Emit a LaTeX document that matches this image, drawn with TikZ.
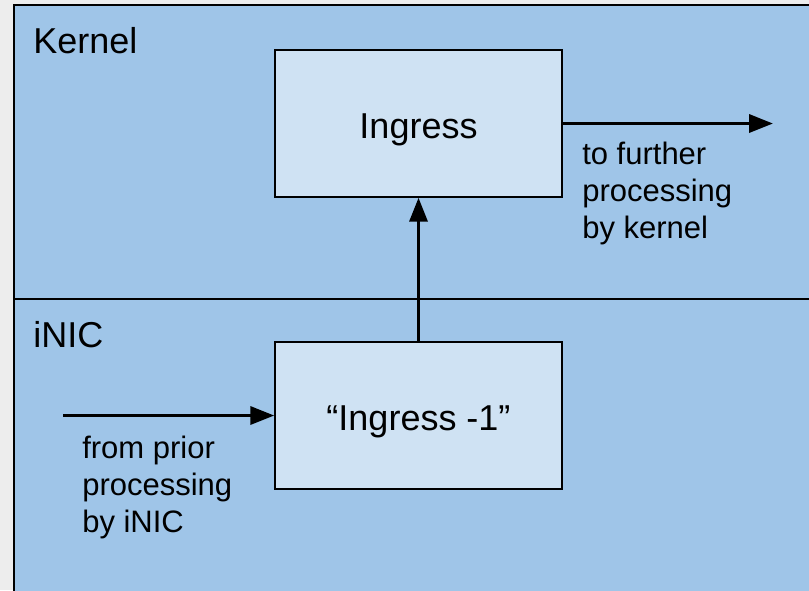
\documentclass[tikz,border=0pt]{standalone}
\usepackage{fontspec}
\setmainfont{Liberation Sans}
\usetikzlibrary{arrows.meta}
\definecolor{layerblue}{HTML}{9FC5E8}
\definecolor{boxblue}{HTML}{CFE2F3}
\definecolor{backdrop}{HTML}{EDEDED}
\begin{document}
\begin{tikzpicture}[x=0.75pt,y=-0.75pt,
  stage/.style={draw=black,line width=1.1pt,fill=boxblue,minimum width=287*0.75pt,minimum height=147*0.75pt,inner sep=0pt,
    text height=22.5pt,text depth=0pt,font=\fontsize{27}{32}\selectfont},
  title/.style={anchor=base west,inner sep=0pt,font=\fontsize{27}{32}\selectfont},
  note/.style={anchor=base west,inner sep=0pt,align=left,font=\fontsize{23.25}{27.75}\selectfont},
  flow/.style={line width=2.6pt,-{Triangle[length=24*0.75pt,width=18*0.75pt]}}]
  % page frame and backdrop
  \fill[backdrop] (0,0) rectangle (809,590);
  \useasboundingbox (0,0) rectangle (809,590);
  % the two layers: kernel on top, iNIC below
  \fill[layerblue] (14,5) rectangle (812,593);
  \draw[line width=1.5pt] (812,5) -- (14,5) -- (14,593);
  \draw[line width=1.1pt] (14,299) -- (812,299);
  \node[title] (kernel) at (33,53) {Kernel};
  \node[title] (inic) at (33,347) {iNIC};
  % processing stages
  \node[stage] (ingress) at (418.5,123.5) {Ingress};
  \node[stage] (ingressm) at (418.5,415.5) {“Ingress -1”};
  % flows between stages
  \coordinate (srcend) at (63,415.5);
  \coordinate (dstend) at (773,123.5);
  \draw[flow] (srcend) -- (ingressm.west);
  \draw[flow] (ingressm.north) -- (ingress.south);
  \draw[flow] (ingress.east) -- (dstend);
  % side notes (anchored at the baseline of their last line)
  \node[note] (tonote) at (582,238) {to further\\processing\\by kernel};
  \node[note] (fromnote) at (82,532) {from prior\\processing\\by iNIC};
\end{tikzpicture}
\end{document}
